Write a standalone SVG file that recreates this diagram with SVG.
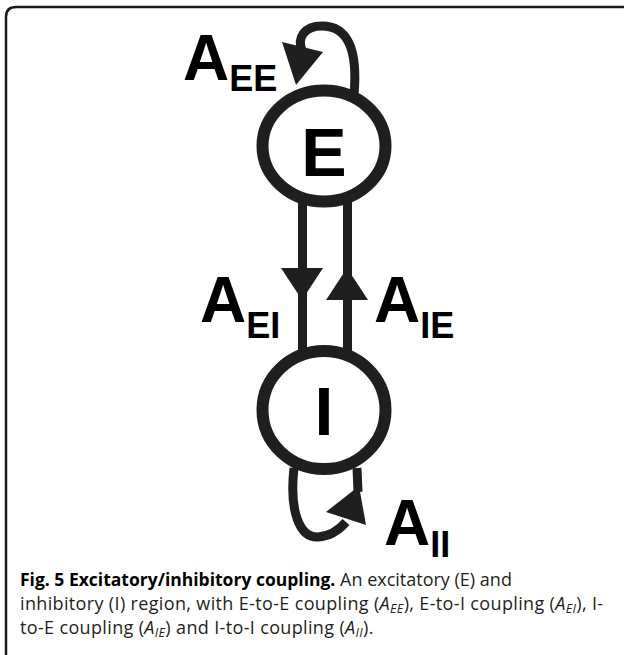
<svg xmlns="http://www.w3.org/2000/svg" width="624" height="655" viewBox="0 0 624 655">
  <style>
    .ring { fill: #ffffff; stroke: #1f1f1f; stroke-width: 12; }
    .edge { fill: none; stroke: #1f1f1f; stroke-width: 9; }
    .head { fill: #1f1f1f; stroke: none; }
    .big { font-family: "Liberation Sans", Arial, sans-serif; font-weight: bold; fill: #000000; }
    .cap { font-family: "Open Sans", "Noto Sans", sans-serif; font-size: 18px; fill: #231f20; }
    .sp { letter-spacing: 0.35px; }
    .sub { font-size: 12.5px; }
  </style>
  <rect width="624" height="655" fill="#ffffff"/>
  <!-- frame -->
  <path d="M 624 7 H 16 Q 6 7 6 17 V 655" fill="none" stroke="#1a1a1a" stroke-width="2.5"/>

  <g id="connectors">
    <!-- E self-loop -->
    <path class="edge" d="M 354 95 C 358 50, 348 26, 322 26 C 304 26, 297 38, 302 50"/>
    <polygon class="head" points="282,42 323,52 296,85"/>
    <!-- E to I -->
    <line class="edge" x1="302.5" y1="200" x2="302.5" y2="352"/>
    <polygon class="head" points="281,268 323,268 302,300"/>
    <!-- I to E -->
    <line class="edge" x1="347.5" y1="200" x2="347.5" y2="352"/>
    <polygon class="head" points="326,300 368,300 347,268"/>
    <!-- I self-loop -->
    <path class="edge" d="M 294 468 C 289 512, 300 538, 318 537 C 332 536, 340 529, 346 522"/>
    <line class="edge" x1="357" y1="468" x2="358" y2="492"/>
    <polygon class="head" points="326,512 366,525 359,486"/>
  </g>

  <g id="node-E">
    <ellipse class="ring" cx="324" cy="146" rx="61.5" ry="55.5"/>
    <text class="big" x="324" y="176" font-size="68" text-anchor="middle">E</text>
  </g>
  <g id="node-I">
    <ellipse class="ring" cx="324" cy="410" rx="61.5" ry="59"/>
    <text class="big" x="324" y="435" font-size="68" text-anchor="middle">I</text>
  </g>

  <g id="labels">
    <text class="big" x="183" y="80" font-size="64">A<tspan font-size="36" dy="11">EE</tspan></text>
    <text class="big" x="200" y="322" font-size="64">A<tspan font-size="36" dy="16">EI</tspan></text>
    <text class="big" x="374" y="322" font-size="64">A<tspan font-size="36" dy="16">IE</tspan></text>
    <text class="big" x="384" y="545" font-size="64">A<tspan font-size="36" dy="12">II</tspan></text>
  </g>

  <g id="caption">
    <text class="cap" x="20" y="586"><tspan font-weight="bold" font-size="17.5" fill="#000000">Fig. 5 Excitatory/inhibitory coupling.</tspan> An excitatory (E) and</text>
    <text class="cap sp" x="20" y="610">inhibitory (I) region, with E-to-E coupling (<tspan font-style="italic">A<tspan class="sub" dy="3">EE</tspan></tspan><tspan dy="-3">), E-to-I coupling (</tspan><tspan font-style="italic">A<tspan class="sub" dy="3">EI</tspan></tspan><tspan dy="-3">), I-</tspan></text>
    <text class="cap sp" x="20" y="634">to-E coupling (<tspan font-style="italic">A<tspan class="sub" dy="3">IE</tspan></tspan><tspan dy="-3">) and I-to-I coupling (</tspan><tspan font-style="italic">A<tspan class="sub" dy="3">II</tspan></tspan><tspan dy="-3">).</tspan></text>
  </g>
</svg>
